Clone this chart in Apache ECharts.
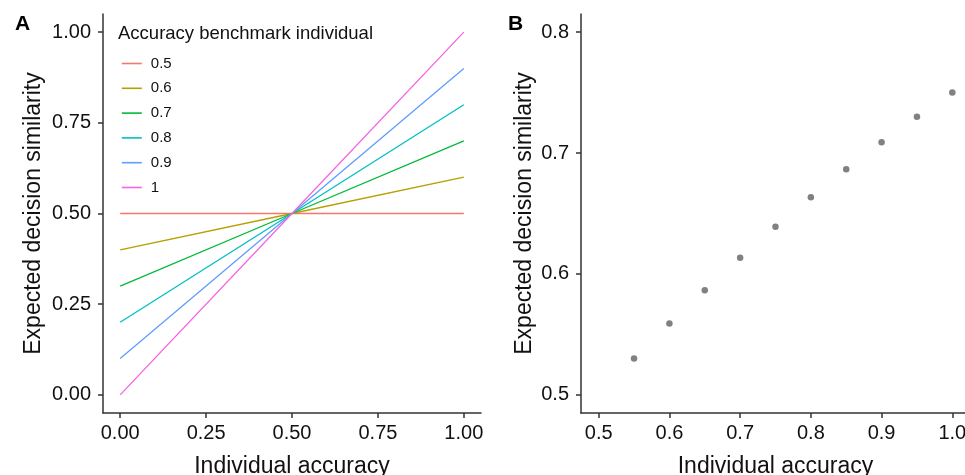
<!DOCTYPE html>
<html><head><meta charset="utf-8">
<script src="https://cdn.jsdelivr.net/npm/echarts@6/dist/echarts.min.js"></script>
<style>html,body{margin:0;padding:0;background:#fff}#c{width:965px;height:475px}</style>
</head><body><div id="c"></div>
<script>
// Panel A: lines, each from individual accuracy 0 to 1
const benchmarks = ['0.5','0.6','0.7','0.8','0.9','1'];
const lineX = [0, 0.5, 1];
const lineY = {
  '0.5': [0.5, 0.5, 0.5],
  '0.6': [0.4, 0.5, 0.6],
  '0.7': [0.3, 0.5, 0.7],
  '0.8': [0.2, 0.5, 0.8],
  '0.9': [0.1, 0.5, 0.9],
  '1':   [0.0, 0.5, 1.0]
};
const lineColors = ['#F8766D','#B79F00','#00BA38','#00BFC4','#619CFF','#F564E3'];
const ticksA = [0, 0.25, 0.5, 0.75, 1];
// Panel B: points
const accB = [0.55, 0.6, 0.65, 0.7, 0.75, 0.8, 0.85, 0.9, 0.95, 1.0];
const simB = [0.530, 0.559, 0.5865, 0.6135, 0.639, 0.6635, 0.6865, 0.709, 0.730, 0.750];
const ticksBx = [0.5, 0.6, 0.7, 0.8, 0.9, 1.0];
const ticksBy = [0.5, 0.6, 0.7, 0.8];

const FONT = 'Liberation Sans, Arial, sans-serif';
const axisCol = '#333333';
const txtCol = '#111111';

function valAxis(min, max, ticks, fmt, name, gap, margin) {
  return {
    type: 'value', min: min, max: max,
    name: name, nameLocation: 'middle', nameGap: gap,
    nameTextStyle: {fontFamily: FONT, fontSize: 23, color: txtCol},
    axisLine: {show: true, onZero: false, lineStyle: {color: axisCol, width: 1.5}},
    axisTick: {show: true, length: 5, customValues: ticks, lineStyle: {color: axisCol, width: 1.5}},
    axisLabel: {customValues: ticks, formatter: v => v.toFixed(fmt), fontFamily: FONT, fontSize: 20, color: txtCol, margin: margin},
    splitLine: {show: false}
  };
}

const series = benchmarks.map((b, i) => ({
  name: b, type: 'line', xAxisIndex: 0, yAxisIndex: 0,
  data: lineX.map((x, j) => [x, lineY[b][j]]),
  symbol: 'none', lineStyle: {width: 1.3, color: lineColors[i]}, itemStyle: {color: lineColors[i]},
  z: 2 + i, silent: true, animation: false
}));
series.push({
  type: 'scatter', xAxisIndex: 1, yAxisIndex: 1,
  data: accB.map((x, i) => [x, simB[i]]),
  symbolSize: 6.5, itemStyle: {color: '#616161'}, animation: false
});

const chart = echarts.init(document.getElementById('c'), null, {renderer: 'canvas'});
chart.setOption({
  backgroundColor: '#fff',
  animation: false,
  title: [
    {text: 'A', left: 10, top: 9, textStyle: {fontFamily: FONT, fontSize: 21, fontWeight: 'bold', color: '#000'}},
    {text: 'B', left: 503, top: 9, textStyle: {fontFamily: FONT, fontSize: 21, fontWeight: 'bold', color: '#000'}},
    {text: 'Accuracy benchmark individual', left: 113, top: 19, textStyle: {fontFamily: FONT, fontSize: 18.5, fontWeight: 'normal', color: txtCol}}
  ],
  legend: {
    data: benchmarks, orient: 'vertical', left: 116, top: 51,
    itemWidth: 20, itemHeight: 14, itemGap: 9.8,
    itemStyle: {opacity: 0},
    lineStyle: {width: 1.6},
    textStyle: {fontFamily: FONT, fontSize: 15, color: txtCol, padding: [0,0,0,4]},
    selectedMode: false
  },
  grid: [
    {left: 103, right: 484, top: 14, bottom: 62, outerBoundsMode: 'none', containLabel: false},
    {left: 581, right: -5, top: 14, bottom: 62, outerBoundsMode: 'none', containLabel: false}
  ],
  xAxis: [
    Object.assign(valAxis(-0.05, 1.05, ticksA, 2, 'Individual accuracy', 42, 10), {gridIndex: 0}),
    Object.assign(valAxis(0.475, 1.025, ticksBx, 1, 'Individual accuracy', 42, 10), {gridIndex: 1})
  ],
  yAxis: [
    Object.assign(valAxis(-0.05, 1.05, ticksA, 2, 'Expected decision similarity', 58, 12), {gridIndex: 0}),
    Object.assign(valAxis(0.485, 0.815, ticksBy, 1, 'Expected decision similarity', 45, 12), {gridIndex: 1})
  ],
  series: series
});
</script></body></html>
